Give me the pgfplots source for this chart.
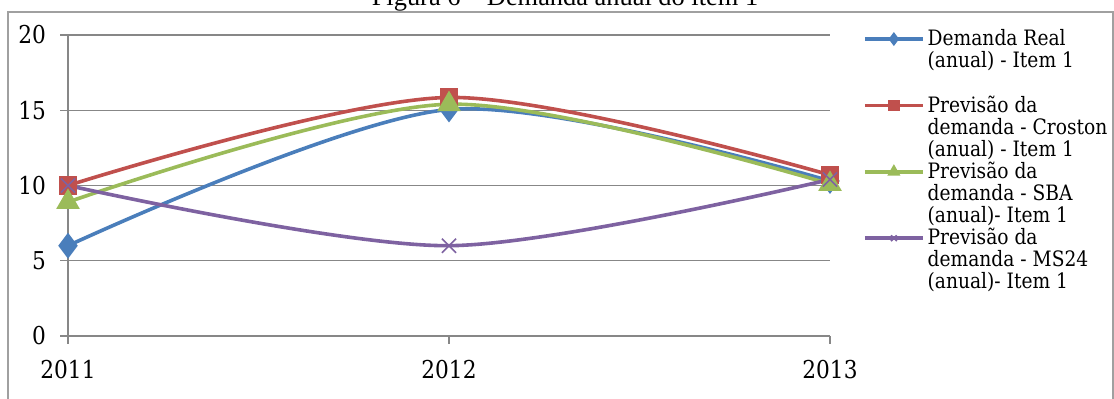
\documentclass[border=0pt]{standalone}
\usepackage{pgfplots}
\pgfplotsset{compat=1.18}
\usepackage{fontspec}
\setmainfont{DejaVu Serif}[FakeStretch=0.88]
\newfontfamily\captionfont{Liberation Serif}

\definecolor{sBlue}{HTML}{4A7EBB}
\definecolor{sRed}{HTML}{C0504D}
\definecolor{sGreen}{HTML}{9BBB59}
\definecolor{sPurple}{HTML}{7E62A1}
\definecolor{gridgray}{HTML}{878787}
\definecolor{framegray}{HTML}{A0A0A0}

\begin{document}
\begin{tikzpicture}
\useasboundingbox (0pt,0pt) rectangle (557pt,199.5pt);
% frame and caption
\draw[framegray, line width=1pt] (4pt,-5pt) -- (4pt,193.5pt) -- (556.5pt,193.5pt) -- (556.5pt,-5pt);
\node[anchor=base, inner sep=0pt, font=\captionfont\fontsize{13.2}{15}\selectfont]
  at (282.5pt,196.5pt) {Figura 6 – Demanda anual do item 1};

\begin{axis}[
  at={(34pt,31.5pt)}, anchor=south west,
  scale only axis, width=381pt, height=150.5pt,
  xmin=2011, xmax=2013, ymin=0, ymax=20,
  xtick={2011,2012,2013}, xticklabels={2011,2012,2013},
  ytick={0,5,10,15,20},
  /pgf/number format/assume math mode=true,
  axis lines*=left,
  axis line style={gridgray, line width=0.6pt},
  ymajorgrids, grid style={gridgray, line width=0.6pt},
  tick style={gridgray, line width=0.6pt},
  tick align=outside, major tick length=4pt,
  tick label style={font=\fontsize{12.3}{14}\selectfont},
  yticklabel shift=3.5pt, xticklabel shift=4.5pt,
  clip=false,
  legend cell align=left,
  legend style={
    at={(1.035,1.033)}, anchor=north west,
    draw=none, fill=none,
    font=\fontsize{10.6}{11}\selectfont,
    nodes={align=left, inner sep=0pt},
    column sep=1.5pt, row sep=1.5pt,
  },
  % the key line sits beside the first line of each entry
  legend image code/.code={
    \draw[mark repeat=2, mark phase=2, yshift=11pt, #1]
      plot coordinates {(0pt,0pt) (14.5pt,0pt) (29pt,0pt)};
  },
  every legend image post/.append style={mark size=2pt},
]
\addplot[sBlue, line width=1.8pt, smooth, mark=diamond*, mark size=5pt,
  mark options={solid, fill=sBlue}]
  coordinates {(2011,6) (2012,15.05) (2013,10.3)};
\addlegendentry{Demanda Real\\(anual) - Item 1\\\strut}

\addplot[sRed, line width=1.8pt, smooth, mark=square*, mark size=3.8pt,
  mark options={solid, fill=sRed}]
  coordinates {(2011,10) (2012,15.85) (2013,10.7)};
\addlegendentry{Previsão da\\demanda - Croston\\(anual) - Item 1}

\addplot[sGreen, line width=1.8pt, smooth, mark=triangle*, mark size=5pt,
  mark options={solid, fill=sGreen}]
  coordinates {(2011,8.9) (2012,15.4) (2013,10.1)};
\addlegendentry{Previsão da\\demanda - SBA\\(anual)- Item 1}

\addplot[sPurple, line width=1.8pt, smooth, mark=x, mark size=5pt,
  mark options={solid, line width=0.8pt}]
  coordinates {(2011,10) (2012,6) (2013,10.4)};
\addlegendentry{Previsão da\\demanda - MS24\\(anual)- Item 1}
\end{axis}
\end{tikzpicture}
\end{document}
